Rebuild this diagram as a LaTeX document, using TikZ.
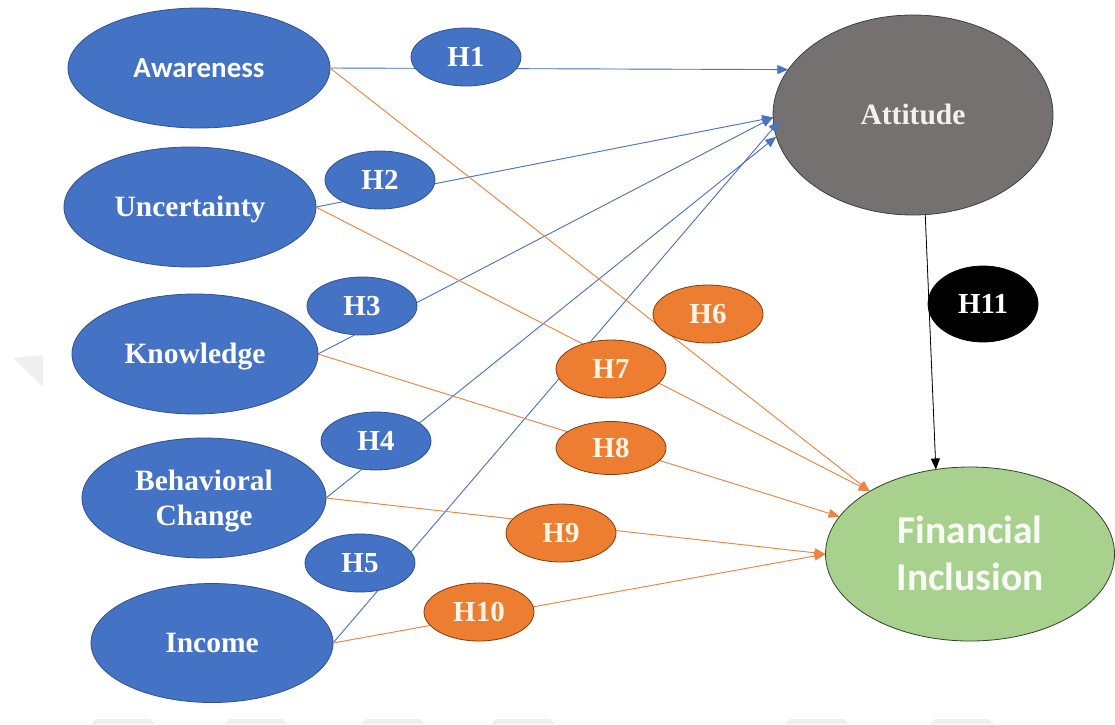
\documentclass[tikz,border=0pt]{standalone}
\usepackage{fontspec}
\setmainfont{Liberation Serif}
\newfontfamily\calibri{Carlito}
\usetikzlibrary{shapes.geometric,arrows.meta}

\definecolor{varblue}{HTML}{4472C4}
\definecolor{varblueedge}{HTML}{2F528F}
\definecolor{hyporange}{HTML}{ED7D31}
\definecolor{hyporangeedge}{HTML}{843C0C}
\definecolor{attgray}{HTML}{767171}
\definecolor{attedge}{HTML}{3E3E4A}
\definecolor{outgreen}{HTML}{A9D18E}
\definecolor{outgreenedge}{HTML}{33402C}
\definecolor{linkblue}{HTML}{4A74C0}
\definecolor{linkorange}{HTML}{EE8440}
\definecolor{wmgray}{HTML}{EFEFEF}
\definecolor{creamtext}{HTML}{FFF6E8}

\begin{document}
\begin{tikzpicture}[x=1pt,y=-1pt,
  oval/.style={ellipse, inner sep=0pt, outer sep=0pt, line width=0.8pt,
    text=white, align=center, text depth=0pt,
    font=\fontsize{29.5}{35}\selectfont\bfseries, text height=19.5pt},
  varnode/.style={oval, fill=varblue, draw=varblueedge},
  hblue/.style={oval, fill=varblue, draw=varblueedge,
    minimum width=110pt, minimum height=58pt,
    font=\fontsize{29}{34}\selectfont\bfseries, text height=19.2pt},
  horange/.style={hblue, fill=hyporange, draw=hyporangeedge, text=creamtext},
  link/.style={line width=0.9pt, -{Triangle[length=11pt,width=9pt]}},
  bluelink/.style={link, draw=linkblue, fill=linkblue},
  orangelink/.style={link, draw=linkorange, fill=linkorange},
]
\useasboundingbox (0,0) rectangle (1115,724);

% faint background chevrons
\fill[wmgray] (13,358) -- (43,355) -- (43,387) -- cycle;
\foreach \xa in {96,229,366,496,790,935}
  \fill[wmgray] (\xa,719) -- (\xa+54,719) -- (\xa+59,724) -- (\xa-5,724) -- cycle;

% constructs
\node[varnode, minimum width=262pt, minimum height=120pt,
  font=\fontsize{29}{35}\selectfont\calibri\bfseries, text height=18.7pt]
  (aw) at (199,68) {Awareness};
\node[varnode, minimum width=252pt, minimum height=120pt] (unc) at (190,207) {Uncertainty};
\node[varnode, minimum width=246pt, minimum height=120pt] (kn) at (195,354) {Knowledge};
\node[varnode, minimum width=244pt, minimum height=120pt, text height=54.5pt]
  (bc) at (204,498) {Behavioral\\Change};
\node[varnode, minimum width=242pt, minimum height=119pt] (inc) at (212,643) {Income};

\node[oval, fill=attgray, draw=attedge, text=white!95!black,
  minimum width=280pt, minimum height=200pt] (att) at (913,115) {Attitude};
\node[oval, fill=outgreen, draw=outgreenedge, text=white!92!outgreen,
  minimum width=289pt, minimum height=174pt,
  font=\fontsize{39.5}{47}\selectfont\calibri\bfseries, text height=72.5pt]
  (fi) at (970,554) {Financial\\Inclusion};

% paths to Attitude
\draw[bluelink] (aw.east) -- (att.160);
\draw[bluelink] (unc.east) -- (att.181);
\draw[bluelink] (kn.east) -- (att.181);
\draw[bluelink] (bc.east) -- (att.189);
\draw[bluelink, shorten >=-8pt] (inc.east) -- (att.185);

% paths to Financial Inclusion
\draw[orangelink] (aw.east) -- (fi.148.5);
\draw[orangelink] (unc.east) -- (fi.148.5);
\draw[orangelink] (kn.east) -- (fi.164);
\draw[orangelink] (bc.east) -- (fi.west);
\draw[orangelink] (inc.east) -- (fi.west);

% mediation path
\draw[link, draw=black, fill=black, line width=0.8pt] (att.277.8) -- (fi.112.3);

% hypothesis labels
\node[hblue] (h1) at (466,57) {H1};
\node[hblue] (h2) at (380,180) {H2};
\node[hblue] (h3) at (362,306) {H3};
\node[hblue] (h4) at (376,441) {H4};
\node[hblue] (h5) at (360,563) {H5};
\node[horange] (h6) at (708,314) {H6};
\node[horange] (h7) at (611,369) {H7};
\node[horange, minimum height=53pt] (h8) at (611,448) {H8};
\node[horange] (h9) at (561,533) {H9};
\node[horange] (h10) at (479,612) {H10};
\node[hblue, fill=black, draw=black, minimum height=76pt] (h11) at (983,304) {H11};
\end{tikzpicture}
\end{document}
